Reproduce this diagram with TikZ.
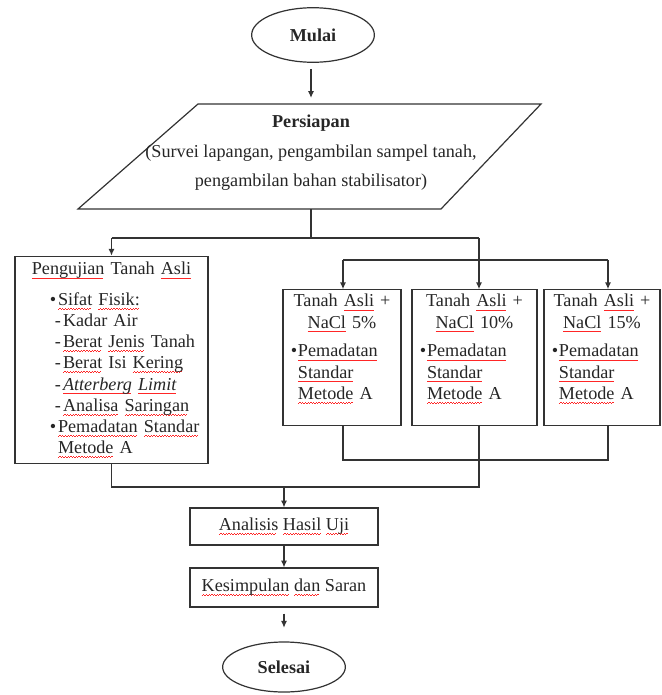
\documentclass[tikz,border=0pt]{standalone}
\usepackage{fontspec}
\setmainfont{Liberation Serif}
\usetikzlibrary{shapes.geometric,arrows.meta}

\newsavebox{\sqbox}
\newcommand{\sq}[1]{\sbox{\sqbox}{#1}\rlap{\textcolor{red!85}{\raisebox{-2.6pt}{\hbox to\wd\sqbox{\leaders\hbox{\rule{0.9pt}{0.45pt}\raisebox{0.45pt}{\rule{0.9pt}{0.45pt}}}\hfill}}}}\usebox{\sqbox}}
\newcommand{\bul}{\hspace*{19.1pt}\makebox[5.3pt][l]{\textbullet}}
\newcommand{\dsh}{\hspace*{22.4pt}\makebox[5.3pt][l]{-}}
\newcommand{\nbul}{\hspace*{2.2pt}\makebox[4.7pt][l]{\textbullet}}

\tikzset{
	every node/.style={font=\fontsize{12pt}{14pt}\selectfont, text=black!85},
	line/.style={draw=black!80, line width=0.8pt},
	arr/.style={line, -{Latex[length=4.5pt,width=4pt]}},
	terminal/.style={ellipse, line, minimum width=81pt, minimum height=34pt, font=\fontsize{12pt}{14pt}\selectfont\bfseries},
	box/.style={rectangle, line},
	naclbox/.style={box, minimum height=89.1pt, align=left, inner sep=3pt}
}

\begin{document}
\begin{tikzpicture}[x=0.66pt, y=-0.66pt]
	\useasboundingbox (0,0) rectangle (662,695);

	\node[terminal, minimum height=36pt] (mulai) at (313,35) {Mulai};

	% persiapan
	\draw[line] (198,104) -- (541,104) -- (441,209) -- (78,209) -- cycle;
	\node[align=center] (siap) at (311,153) {\textbf{Persiapan}\\[5.5pt](Survei lapangan, pengambilan sampel tanah,\\[5.5pt]pengambilan bahan stabilisator)};
	\coordinate (siapT) at (311,104);
	\coordinate (siapB) at (311,209);

	\node[box, minimum width=127.4pt, minimum height=134.6pt, text width=119.4pt, align=left, inner sep=4pt] (uji) at (111.5,360) {%
		\makebox[\linewidth]{\sq{Pengujian} Tanah \sq{Asli}}\\[6pt]
		\bul\sq{Sifat} \sq{Fisik:}\\
		\dsh Kadar Air\\
		\dsh\sq{Berat} \sq{Jenis} Tanah\\
		\dsh\sq{Berat} Isi \sq{Kering}\\
		\dsh\sq{\textit{Atterberg}} \sq{\textit{Limit}}\\
		\dsh\sq{Analisa} \sq{Saringan}\\
		\bul\sq{Pemadatan} \sq{Standar}\\
		\hspace*{24.4pt}\sq{Metode} A};

	\node[naclbox, minimum width=77.9pt, text width=71.9pt] (nacl5) at (342,357.5) {%
		\makebox[\linewidth]{Tanah \sq{Asli} +}\\
		\makebox[\linewidth]{\sq{NaCl} 5\%}\\[5pt]
		\nbul\sq{Pemadatan}\\
		\hspace*{6.9pt}\sq{Standar}\\
		\hspace*{6.9pt}\sq{Metode} A\\
		\mbox{}};
	\node[naclbox, minimum width=82.5pt, text width=76.5pt] (nacl10) at (474.5,357.5) {%
		\makebox[\linewidth]{Tanah \sq{Asli} +}\\
		\makebox[\linewidth]{\sq{NaCl} 10\%}\\[5pt]
		\nbul\sq{Pemadatan}\\
		\hspace*{6.9pt}\sq{Standar}\\
		\hspace*{6.9pt}\sq{Metode} A\\
		\mbox{}};
	\node[naclbox, minimum width=76.6pt, text width=70.6pt] (nacl15) at (602,357.5) {%
		\makebox[\linewidth]{Tanah \sq{Asli} +}\\
		\makebox[\linewidth]{\sq{NaCl} 15\%}\\[5pt]
		\nbul\sq{Pemadatan}\\
		\hspace*{6.9pt}\sq{Standar}\\
		\hspace*{6.9pt}\sq{Metode} A\\
		\mbox{}};

	\node[box, minimum width=124pt, minimum height=24.4pt] (analisis) at (284,526.5) {\sq{Analisis} \sq{Hasil} \sq{Uji}};
	\node[box, minimum width=124pt, minimum height=25.7pt] (simpul) at (284,587.5) {\sq{Kesimpulan} \sq{dan} Saran};
	\node[terminal, minimum height=33pt] (selesai) at (284,667) {Selesai};

	% cabang atas
	\coordinate (sB) at (311,238);
	\coordinate (sL) at (111.5,238);
	\coordinate (sR) at (479,238);
	\coordinate (nL) at (343,260);
	\coordinate (nR) at (608,260);
	\draw[arr, shorten <=4pt, shorten >=4pt] (mulai.south -| siapT) -- (siapT);
	\draw[line] (siapB) -- (sB);
	\draw[line] (sL) -- (sR);
	\draw[arr] (sL) -- (uji.north);
	\draw[arr] (sR) -- (sR |- nacl10.north);
	\draw[line] (nL) -- (nR);
	\draw[arr] (nL) -- (nL |- nacl5.north);
	\draw[arr] (nR) -- (nR |- nacl15.north);

	% cabang bawah
	\coordinate (bL) at (343,460);
	\coordinate (bR) at (608,460);
	\coordinate (cL) at (111.5,487);
	\coordinate (cR) at (479,487);
	\draw[line] (bL |- nacl5.south) -- (bL) -- (bR) -- (bR |- nacl15.south);
	\draw[line] (uji.south) -- (cL) -- (cR) -- (cR |- nacl10.south);
	\draw[arr] (analisis.north |- cL) -- (analisis.north);
	\draw[arr] (analisis) -- (simpul);
	\draw[arr, shorten <=4pt, shorten >=9pt] (simpul) -- (selesai);
\end{tikzpicture}
\end{document}
